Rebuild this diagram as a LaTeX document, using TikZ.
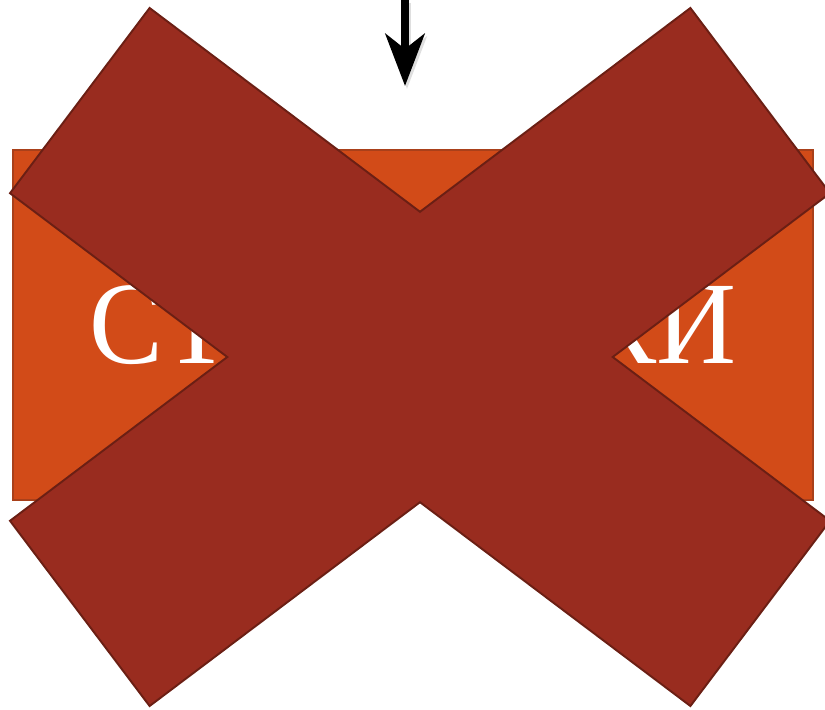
\documentclass[tikz,border=0pt]{standalone}
\usepackage{fontspec}
\setmainfont{Liberation Serif}
\usetikzlibrary{arrows.meta}

\definecolor{boxorange}{HTML}{D24B18}
\definecolor{boxedge}{HTML}{A9401A}
\definecolor{crossred}{HTML}{992C1F}
\definecolor{crossedge}{HTML}{6B1F14}

\begin{document}
\begin{tikzpicture}[x=0.02cm, y=-0.02cm, line width=1.1pt,
  wordbox/.style={draw=boxedge, fill=boxorange, minimum width=16cm, minimum height=7cm,
    inner sep=0pt, text=white, font=\fontsize{67}{70}\selectfont},
  bigarrow/.style={line width=5.1pt, -{Stealth[length=1.04cm, width=0.78cm, inset=0.3cm]}}]

\useasboundingbox (0,0) rectangle (825,710);

% Arrow coming down from the top
\coordinate (arrowtop) at (405,0);
\coordinate (arrowtip) at (405,86);
\draw[bigarrow, black!25, opacity=0.5, transform canvas={shift={(0.04cm,-0.06cm)}}] (arrowtop) -- (arrowtip);
\draw[bigarrow] (arrowtop) -- (arrowtip);

% Orange box with the word
\node[wordbox] (word) at (413,325) {\scalebox{0.94}[1]{СТРЕЛОЧКИ}};

% Big cross over it
\draw[fill=crossred, draw=crossedge, line join=miter]
  (149.6,8) -- (420,211.8) -- (690.4,8) -- (830,193.2) -- (612.7,357)
  -- (830,520.8) -- (690.4,706) -- (420,502.2) -- (149.6,706)
  -- (10,520.8) -- (227.3,357) -- (10,193.2) -- cycle;

\end{tikzpicture}
\end{document}
